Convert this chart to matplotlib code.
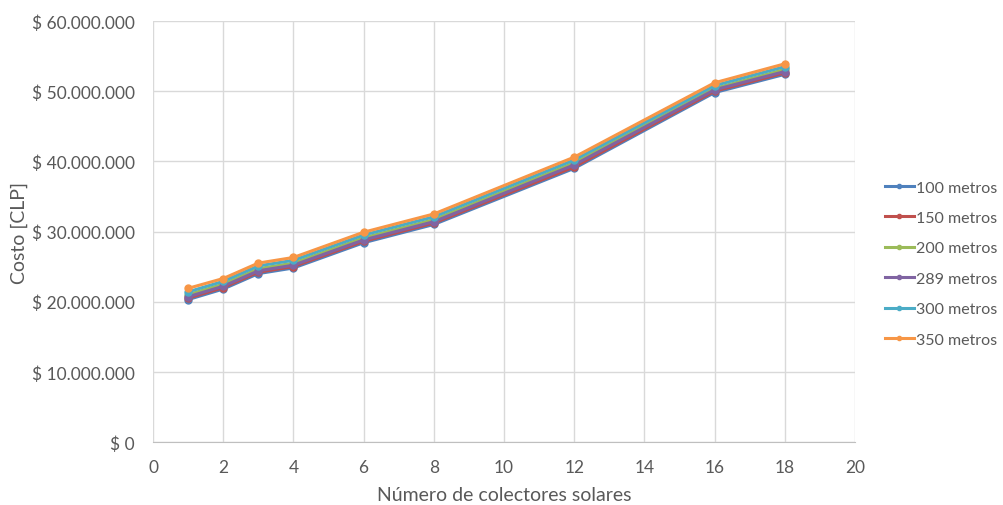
import matplotlib
matplotlib.use('Agg')
import matplotlib.pyplot as plt
from matplotlib.ticker import FuncFormatter, MultipleLocator

plt.rcParams['font.family'] = ['Lato', 'DejaVu Sans']

# data (millones de CLP)
colectores = [1, 2, 3, 4, 6, 8, 12, 16, 18]
labels = ['100 metros', '150 metros', '200 metros', '289 metros', '300 metros', '350 metros']
costo_100 = [20.3, 21.8, 24.0, 24.8, 28.4, 31.0, 39.0, 49.8, 52.4]
costo_150 = [20.5, 22.0, 24.2, 25.0, 28.6, 31.2, 39.2, 50.0, 52.6]
costo_289 = [20.7, 22.2, 24.4, 25.2, 28.8, 31.4, 39.5, 50.2, 52.8]
costo_200 = [21.0, 22.5, 24.7, 25.5, 29.1, 31.7, 39.8, 50.4, 53.1]
costo_300 = [21.4, 22.9, 25.1, 25.9, 29.5, 32.1, 40.2, 50.8, 53.5]
costo_350 = [21.9, 23.3, 25.5, 26.3, 29.9, 32.5, 40.6, 51.2, 53.9]
series = [costo_100, costo_150, costo_200, costo_289, costo_300, costo_350]
colors = ['#4F81BD', '#C0504D', '#9BBB59', '#8064A2', '#4BACC6', '#F79646']

fig = plt.figure(figsize=(10.04, 5.06), dpi=100)
ax = fig.add_axes([0.1524, 0.1245, 0.6992, 0.832])

for s, lab, c in zip(series, labels, colors):
    ax.plot(colectores, [v * 1e6 for v in s], color=c, lw=2.2, marker='o', ms=5,
            label=lab, solid_joinstyle='round')

ax.set_xlim(0, 20)
ax.set_ylim(0, 60e6)
ax.xaxis.set_major_locator(MultipleLocator(2))
ax.yaxis.set_major_locator(MultipleLocator(10e6))


def pesos(v, pos):
    return '$ ' + '{:,.0f}'.format(v).replace(',', '.')


ax.yaxis.set_major_formatter(FuncFormatter(pesos))
ax.grid(True, color='#D9D9D9', lw=1)
ax.set_axisbelow(True)
for side in ['top', 'right', 'left']:
    ax.spines[side].set_visible(False)
ax.spines['bottom'].set_color('#BFBFBF')
ax.tick_params(length=0, labelsize=12.5, labelcolor='#595959', pad=12)
ax.tick_params(axis='y', pad=13)

ax.set_xlabel('Número de colectores solares', fontsize=14, color='#595959', labelpad=8)
ax.set_ylabel('Costo [CLP]', fontsize=14, color='#595959', labelpad=3)

fig.legend(loc='center left', bbox_to_anchor=(0.881, 0.477), frameon=False,
           borderpad=0, borderaxespad=0,
           fontsize=11.5, labelcolor='#595959', handlelength=1.85, handletextpad=0.15,
           labelspacing=1.02, markerscale=0.6)

fig.savefig('out.png', dpi=100)
